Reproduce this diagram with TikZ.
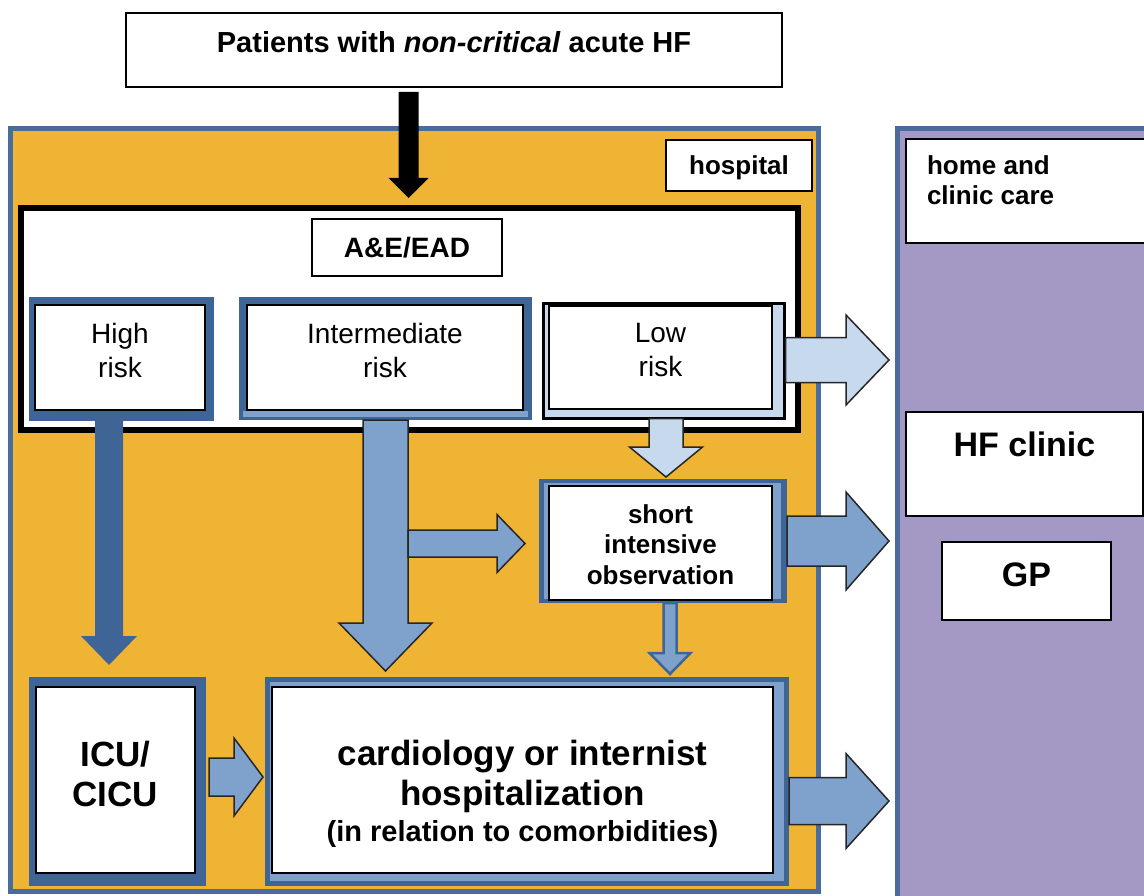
\documentclass[tikz,border=0pt]{standalone}
\usepackage{fontspec}
\setmainfont{Liberation Sans}
\usetikzlibrary{calc}

\definecolor{hosporange}{HTML}{F0B434}
\definecolor{homepurple}{HTML}{A498C4}
\definecolor{frameblue}{HTML}{4A6C9C}
\definecolor{darkblue}{HTML}{3E6596}
\definecolor{midblue}{HTML}{7FA2CC}
\definecolor{lightblue}{HTML}{C6D9ED}

\tikzset{
  every node/.style={inner sep=0pt, outer sep=0pt},
  wh/.style n args={2}{minimum width=#1pt, minimum height=#2pt},
  whitebox/.style={draw=black, line width=1.8pt, fill=white},
  container/.style={draw=frameblue, line width=5pt},
  risktext/.style={font=\fontsize{28}{34}\selectfont, align=center},
  boldtext/.style n args={2}{font=\fontsize{#1}{#2}\selectfont\bfseries, align=center},
  arrowline/.style={draw=black!85, line width=1.5pt, line join=miter},
  % block arrow pointing down: shaft half width, head half width, head length
  fatdown/.style n args={3}{to path={let \p1=(\tikztostart), \p2=(\tikztotarget) in
    (\x1-#1pt,\y1) -- (\x1-#1pt,\y2+#3pt) -- (\x1-#2pt,\y2+#3pt) -- (\x1,\y2)
    -- (\x1+#2pt,\y2+#3pt) -- (\x1+#1pt,\y2+#3pt) -- (\x1+#1pt,\y1) -- cycle}},
  % block arrow pointing right
  fatright/.style n args={3}{to path={let \p1=(\tikztostart), \p2=(\tikztotarget) in
    (\x1,\y1+#1pt) -- (\x2-#3pt,\y1+#1pt) -- (\x2-#3pt,\y1+#2pt) -- (\x2,\y1)
    -- (\x2-#3pt,\y1-#2pt) -- (\x2-#3pt,\y1-#1pt) -- (\x1,\y1-#1pt) -- cycle}},
}

\begin{document}
\begin{tikzpicture}[x=1pt, y=-1pt]
\useasboundingbox (0,0) rectangle (1144,896);
\fill[white] (0,0) rectangle (1144,896);

% settings: hospital and home
\node[container, fill=hosporange, wh={808}{762}] (hosp) at (414,510) {};
\node[container, fill=homepurple, wh={260}{776}, anchor=north west] (home) at (897,129) {};

% entry box
\node[whitebox, wh={656}{74}] (top) at (454,50) {};
\node[font=\fontsize{29}{34}\selectfont\bfseries, anchor=base] (toptxt) at (454,53)
  {Patients with \textit{non-critical} acute HF};

% setting labels
\node[whitebox, wh={146}{51}, label={[font=\fontsize{26}{30}\selectfont\bfseries, yshift=-2.5pt]center:hospital}] (hosplbl) at (739,165.5) {};
\node[whitebox, wh={240}{104}] (homelbl) at (1026,191) {};
\node[font=\fontsize{26}{30}\selectfont\bfseries, align=left, anchor=north west] (hometxt) at (927,156)
  {home and\\clinic care};

% emergency department
\node[draw=black, line width=6pt, fill=white, wh={777}{222}] (ae) at (409.5,319) {};
\node[whitebox, wh={190}{57}, font=\fontsize{28}{34}\selectfont\bfseries] (aelbl) at (407,247.5) {A\&E/EAD};

% risk classes
\node[fill=darkblue, wh={185}{124}] (hrO) at (121.5,359) {};
\node[whitebox, wh={170}{105}, label={[risktext, yshift=7.2pt]center:{High\\risk}}] (hr) at (120,357.5) {};

\node[fill=darkblue, wh={293}{123}] (imO) at (385.5,358.5) {};
\fill[midblue] (243,411) rectangle (528,417);
\node[whitebox, wh={276}{105}, label={[risktext, yshift=7.2pt]center:{Intermediate\\risk}}] (im) at (385,357.5) {};

\node[draw=black, line width=2.5pt, fill=lightblue, wh={241}{115}] (loO) at (664,361) {};
\node[whitebox, wh={223}{103}, label={[risktext, yshift=7.2pt]center:{Low\\risk}}] (lo) at (660.5,357.5) {};

% short intensive observation
\node[fill=darkblue, wh={248}{124}] (soO) at (663,541) {};
\node[fill=midblue, wh={237}{116}] (soM) at (662.5,541) {};
\node[whitebox, wh={223}{114}, label={[boldtext={26}{30.5}, yshift=-1.5pt]center:{short\\intensive\\observation}}] (so) at (660.5,543) {};

% ICU and ward
\node[fill=darkblue, wh={177}{209}] (icuO) at (117.5,781.5) {};
\node[whitebox, wh={159}{186}, label={[boldtext={35}{40}, yshift=6.5pt]center:{ICU/\\CICU}}] (icu) at (115.5,780) {};

\node[fill=darkblue, wh={524}{209}] (cardO) at (527,781.5) {};
\node[fill=midblue, wh={514}{199}] (cardM) at (527,781.5) {};
\node[whitebox, wh={501}{186}, label={[boldtext={35}{40}, yshift=-14pt]center:{cardiology or internist\\hospitalization\\[-4pt]{\fontsize{29}{35}\selectfont (in relation to comorbidities)}}}] (card) at (522.5,780) {};

% outpatient follow-up
\node[whitebox, wh={237}{104}, label={[boldtext={34}{40}, yshift=20pt]center:{HF clinic}}] (hfc) at (1024.5,464) {};
\node[whitebox, wh={169}{78}, label={[boldtext={34}{40}, yshift=6pt]center:{GP}}] (gp) at (1026.5,581) {};

% patient flow
\fill[black, fatdown={10}{20}{20}] ($(top.south)+(-45.5,5)$) to ($(ae.north)+(0,-10)$);
\fill[darkblue, fatdown={14}{28}{29}] ($(hrO.south)+(-12.5,0)$) to ($(icuO.north)+(0,-12)$);
\filldraw[arrowline, fill=midblue, fatdown={22.5}{46.5}{48}] (imO.south) to ($(cardO.north)+(0,-6)$);
\filldraw[arrowline, fill=midblue, fatright={13.5}{29}{28}] ($(soO.west)+(-131,2.5)$) to ($(soO.west)+(-14,0)$);
\filldraw[arrowline, fill=lightblue, fatdown={17}{36.5}{30}] ($(loO.south)+(2,0)$) to ($(soO.north)+(0,-2)$);
\filldraw[draw=darkblue, line width=2.5pt, fill=midblue, fatdown={6.5}{20.5}{21}] ($(soO.south)+(7,0)$) to ($(cardO.north)+(0,-3)$);
\filldraw[arrowline, fill=midblue, fatright={19}{39}{29}] ($(icuO.east)+(3,-4.5)$) to ($(cardO.west)+(-2,0)$);

\filldraw[arrowline, fill=lightblue, fatright={22.5}{45}{43}] ($(loO.east)+(1,-1)$) to ($(home.west)+(-8,0)$);
\filldraw[arrowline, fill=midblue, fatright={25}{49}{43}] (soO.east) to ($(home.west)+(-8,0)$);
\filldraw[arrowline, fill=midblue, fatright={23.5}{47.5}{43}] ($(cardO.east)+(0,19.5)$) to ($(home.west)+(-8,0)$);
\end{tikzpicture}
\end{document}
